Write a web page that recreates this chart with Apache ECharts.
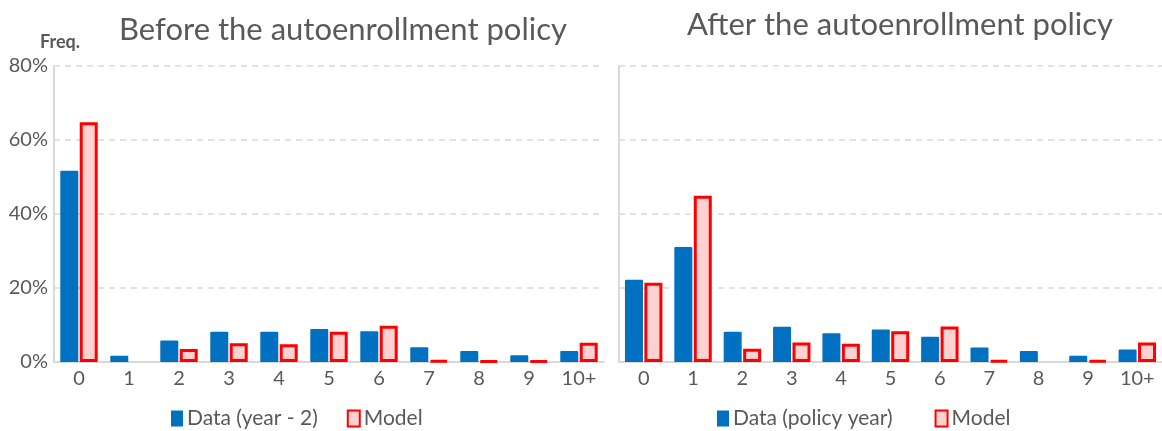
<!DOCTYPE html>
<html>
<head>
<meta charset="utf-8">
<script src="https://cdn.jsdelivr.net/npm/echarts@6/dist/echarts.min.js"></script>
<style>
  html, body { margin: 0; padding: 0; background: #fff; }
  #main { width: 1162px; height: 431px; }
</style>
</head>
<body>
<div id="main"></div>
<script>
// categories = number of ... (0 .. 10+)
const categories = ['0', '1', '2', '3', '4', '5', '6', '7', '8', '9', '10+'];
const yTicks = [0, 20, 40, 60, 80];

// before the policy (year - 2)
const beforeData = [51.7, 1.7, 5.8, 8.2, 8.2, 8.9, 8.3, 4.0, 3.0, 1.8, 3.0];
const beforeModel = [64.8, null, 3.5, 5.1, 4.8, 8.2, 9.8, 0.4, 0.3, 0.3, 5.2];

// after the policy (policy year)
const afterData = [22.2, 31.1, 8.2, 9.5, 7.8, 8.8, 6.8, 3.9, 3.0, 1.7, 3.4];
const afterModel = [21.4, 44.9, 3.6, 5.3, 4.9, 8.3, 9.6, 0.4, null, 0.4, 5.3];

const font = 'Lato, "Open Sans", sans-serif';
const grey = '#595959';
const lineGrey = '#d9d9d9';

const chart = echarts.init(document.getElementById('main'));

function xAxis(gridIndex) {
    return {
        type: 'category',
        gridIndex,
        data: categories,
        axisTick: { show: false },
        axisLine: { lineStyle: { color: lineGrey, width: 2 } },
        axisLabel: { color: grey, fontSize: 20, fontFamily: font, margin: 7 }
    };
}

function yAxis(gridIndex, showLabel) {
    return {
        type: 'value',
        gridIndex,
        min: yTicks[0],
        max: yTicks[yTicks.length - 1],
        interval: 20,
        axisLine: { show: true, lineStyle: { color: lineGrey, width: 2 } },
        axisTick: { show: false },
        axisLabel: {
            show: showLabel,
            color: grey,
            fontSize: 20,
            fontFamily: font,
            margin: 6,
            formatter: '{value}%'
        },
        splitLine: { lineStyle: { color: lineGrey, type: [6, 5], width: 1.5 } }
    };
}

const dataStyle = { color: '#0070c0', borderRadius: [1, 1, 0, 0] };
const modelStyle = { color: '#ffd1d1', borderColor: '#ff0000', borderWidth: 3 };

function bars(name, values, idx, style) {
    return {
        name,
        type: 'bar',
        xAxisIndex: idx,
        yAxisIndex: idx,
        data: values,
        barWidth: 18,
        barGap: '8%',
        itemStyle: style,
        emphasis: { disabled: true }
    };
}

const legendText = { color: grey, fontSize: 21, fontFamily: font, padding: [0, 0, 0, -1] };

const option = {
    animation: false,
    textStyle: { fontFamily: font },
    title: [
        {
            text: 'Before the autoenrollment policy',
            left: 338, top: 9, textAlign: 'center',
            textStyle: { color: grey, fontSize: 31, fontWeight: 'normal', fontFamily: font }
        },
        {
            text: 'After the autoenrollment policy',
            left: 895, top: 4, textAlign: 'center',
            textStyle: { color: grey, fontSize: 31, fontWeight: 'normal', fontFamily: font }
        },
        {
            text: 'Freq.',
            left: 35, top: 28,
            textStyle: { color: grey, fontSize: 18, fontWeight: 'bold', fontFamily: font }
        }
    ],
    legend: [
        {
            data: ['Data (year - 2)', 'Model'],
            left: 166, top: 403,
            icon: 'rect', itemWidth: 12, itemHeight: 16, itemGap: 29,
            textStyle: legendText,
            selectedMode: false
        },
        {
            data: ['Data (policy year)', 'Model'],
            left: 712, top: 403,
            icon: 'rect', itemWidth: 12, itemHeight: 16, itemGap: 42,
            textStyle: legendText,
            selectedMode: false
        }
    ],
    grid: [
        { left: 54, right: 558, top: 66, bottom: 69 },
        { left: 619, right: -1, top: 66, bottom: 69 }
    ],
    xAxis: [xAxis(0), xAxis(1)],
    yAxis: [yAxis(0, true), yAxis(1, false)],
    series: [
        bars('Data (year - 2)', beforeData, 0, dataStyle),
        bars('Model', beforeModel, 0, modelStyle),
        bars('Data (policy year)', afterData, 1, dataStyle),
        bars('Model', afterModel, 1, modelStyle)
    ]
};

chart.setOption(option);
</script>
</body>
</html>
